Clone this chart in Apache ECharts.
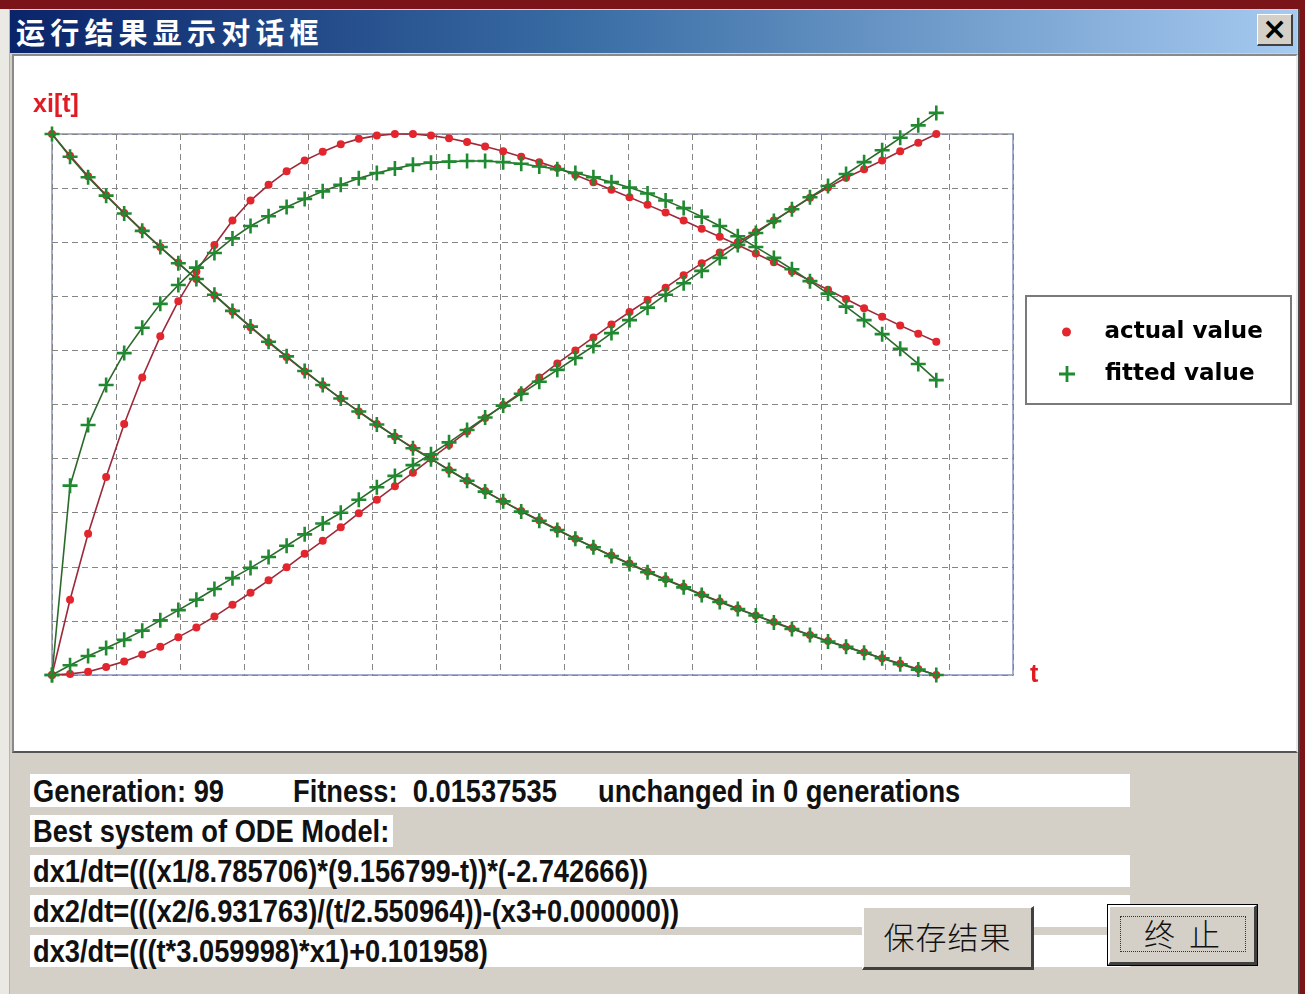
<!DOCTYPE html>
<html>
<head>
<meta charset="utf-8">
<title>运行结果显示对话框</title>
<script src="https://cdn.jsdelivr.net/npm/echarts@6/dist/echarts.min.js"></script>
<style>
  html, body { margin: 0; padding: 0; }
  body { width: 1305px; height: 994px; background: #7a1419; position: relative; overflow: hidden; }
  #dlg { position: absolute; left: 0; top: 9px; width: 1298px; height: 985px; background: #d4d0c8; border-right: 2px solid #4a4a4a; }
  #edge { position: absolute; left: 0; top: 9px; width: 9px; height: 985px; background: #ebe9e4; border-right: 1px solid #b8b4ac; }
  #titlebar { position: absolute; left: 10px; top: 10px; width: 1287px; height: 43px;
    background: linear-gradient(to right, #0a246a 0%, #3a6ea5 45%, #a6caf0 100%); }
  #titletext { position: absolute; left: 6px; top: 3px; color: #fff; font-family: "Noto Sans CJK SC"; font-weight: 700;
    font-size: 29px; letter-spacing: 5.2px; line-height: 36px; white-space: nowrap; }
  #closebtn { position: absolute; left: 1257px; top: 14px; width: 36px; height: 32px; background: #d4d0c8;
    border-top: 1px solid #fff; border-left: 1px solid #fff; border-right: 2px solid #404040; border-bottom: 2px solid #404040;
    box-sizing: border-box; text-align: center; font-family: "DejaVu Sans"; font-weight: bold; font-size: 30px; line-height: 28px; color: #000; }
  #panel { position: absolute; left: 12px; top: 54px; width: 1286px; height: 699px; box-sizing: border-box;
    border-style: solid; border-width: 2px; border-color: #8a8a8a #e8e8e8 #555 #8a8a8a; background: #fff; }
  #chart { position: absolute; left: 14px; top: 56px; width: 1282px; height: 695px; }
  .box { position: absolute; left: 30px; background: #fff; height: 33px; }
  .txt { position: absolute; font-family: "Liberation Sans", Arial, sans-serif;
    font-weight: bold; font-size: 31px; line-height: 33px; color: #111; white-space: nowrap;
    transform: scaleX(0.88); transform-origin: 0 50%; }
  .btn { position: absolute; background: #d4d0c8; box-sizing: border-box;
    border-top: 2px solid #fff; border-left: 2px solid #fff; border-right: 3px solid #404040; border-bottom: 3px solid #404040;
    font-family: "Noto Sans CJK SC"; font-weight: 300; font-size: 31px; color: #111; text-align: center; }
  #btnSave { left: 862px; top: 906px; width: 172px; height: 64px; line-height: 56px; letter-spacing: 1px; }
  #btnStopWrap { position: absolute; left: 1107px; top: 904px; width: 151px; height: 62px; border: 1px solid #000; box-sizing: border-box; }
  #btnStop { left: 0; top: 0; width: 149px; height: 60px; line-height: 52px; letter-spacing: 14px; text-indent: 14px; }
  #focus { position: absolute; left: 12px; top: 11px; width: 126px; height: 36px; border: 1px dotted #333; box-sizing: border-box; }
</style>
</head>
<body>
<div id="dlg"></div>
<div id="edge"></div>
<div id="titlebar"><div id="titletext">运行结果显示对话框</div></div>
<div id="closebtn">×</div>
<div id="panel"></div>
<div id="chart"></div>

<div class="box" style="top:774px; width:1100px;"></div>
<div class="box" style="top:815px; width:363px; height:32px;"></div>
<div class="box" style="top:855px; width:1100px; height:32px;"></div>
<div class="box" style="top:895px; width:1100px; height:32px;"></div>
<div class="box" style="top:935px; width:1100px; height:32px;"></div>

<div class="txt" style="left:33px; top:775px;">Generation: 99</div>
<div class="txt" style="left:293px; top:775px;">Fitness:&nbsp; 0.01537535</div>
<div class="txt" style="left:598px; top:775px;">unchanged in 0 generations</div>
<div class="txt" style="left:33px; top:815px;">Best system of ODE Model:</div>
<div class="txt" style="left:33px; top:855px;">dx1/dt=(((x1/8.785706)*(9.156799-t))*(-2.742666))</div>
<div class="txt" style="left:33px; top:895px;">dx2/dt=(((x2/6.931763)/(t/2.550964))-(x3+0.000000))</div>
<div class="txt" style="left:33px; top:935px;">dx3/dt=(((t*3.059998)*x1)+0.101958)</div>

<div class="btn" id="btnSave">保存结果</div>
<div id="btnStopWrap"><div class="btn" id="btnStop">终止</div><div id="focus"></div></div>

<script>
// Sample positions (step index of the integration grid)
const sampleCount = 50;
const sampleIndex = Array.from({ length: sampleCount }, (_, i) => i);

// x1(t): observed and fitted
const x1Actual = [10.00, 9.60, 9.22, 8.87, 8.54, 8.22, 7.91, 7.62, 7.32, 7.02,
  6.72, 6.43, 6.15, 5.88, 5.61, 5.36, 5.11, 4.87, 4.64, 4.41,
  4.20, 4.00, 3.79, 3.59, 3.40, 3.21, 3.03, 2.86, 2.69, 2.52,
  2.36, 2.21, 2.06, 1.91, 1.77, 1.63, 1.49, 1.36, 1.23, 1.10,
  0.98, 0.86, 0.74, 0.63, 0.52, 0.42, 0.31, 0.21, 0.11, 0.00];
const x1Fitted = [10.00, 9.58, 9.20, 8.86, 8.53, 8.21, 7.91, 7.61, 7.32, 7.03,
  6.73, 6.44, 6.16, 5.89, 5.62, 5.36, 5.11, 4.87, 4.63, 4.41,
  4.19, 3.99, 3.79, 3.59, 3.39, 3.21, 3.02, 2.85, 2.68, 2.52,
  2.36, 2.20, 2.05, 1.90, 1.76, 1.62, 1.48, 1.35, 1.22, 1.10,
  0.97, 0.85, 0.74, 0.62, 0.52, 0.41, 0.31, 0.20, 0.10, 0.00];

// x2(t): observed and fitted
const x2Actual = [0.00, 1.39, 2.61, 3.66, 4.64, 5.50, 6.26, 6.91, 7.46, 7.95,
  8.40, 8.77, 9.06, 9.31, 9.51, 9.67, 9.81, 9.91, 9.97, 10.00,
  10.00, 9.97, 9.92, 9.85, 9.77, 9.68, 9.58, 9.48, 9.37, 9.24,
  9.11, 8.97, 8.83, 8.69, 8.55, 8.40, 8.25, 8.10, 7.95, 7.79,
  7.63, 7.46, 7.29, 7.12, 6.95, 6.78, 6.62, 6.46, 6.31, 6.16];
const x2Fitted = [0.00, 3.50, 4.62, 5.36, 5.95, 6.42, 6.86, 7.21, 7.53, 7.80,
  8.07, 8.30, 8.48, 8.65, 8.80, 8.94, 9.06, 9.18, 9.28, 9.36,
  9.43, 9.47, 9.49, 9.50, 9.50, 9.48, 9.45, 9.40, 9.35, 9.28,
  9.20, 9.11, 9.01, 8.90, 8.77, 8.63, 8.47, 8.30, 8.11, 7.91,
  7.71, 7.50, 7.28, 7.05, 6.81, 6.56, 6.30, 6.03, 5.75, 5.45];

// x3(t): observed and fitted
const x3Actual = [0.00, 0.02, 0.06, 0.15, 0.25, 0.38, 0.52, 0.70, 0.88, 1.08,
  1.30, 1.52, 1.75, 1.99, 2.24, 2.48, 2.73, 2.99, 3.24, 3.49,
  3.74, 4.00, 4.25, 4.50, 4.75, 4.99, 5.23, 5.50, 5.76, 6.00,
  6.24, 6.48, 6.71, 6.93, 7.16, 7.39, 7.61, 7.81, 8.00, 8.19,
  8.40, 8.61, 8.82, 9.01, 9.19, 9.35, 9.51, 9.68, 9.84, 10.00];
const x3Fitted = [0.00, 0.18, 0.35, 0.50, 0.65, 0.82, 1.01, 1.20, 1.39, 1.59,
  1.79, 1.98, 2.18, 2.39, 2.60, 2.80, 3.00, 3.24, 3.47, 3.68,
  3.88, 4.08, 4.30, 4.53, 4.76, 4.98, 5.20, 5.42, 5.64, 5.86,
  6.08, 6.32, 6.56, 6.79, 7.03, 7.24, 7.47, 7.71, 7.95, 8.17,
  8.39, 8.61, 8.83, 9.04, 9.26, 9.48, 9.70, 9.93, 10.16, 10.39];

const actualSeries = [x1Actual, x2Actual, x3Actual];
const fittedSeries = [x1Fitted, x2Fitted, x3Fitted];

const ACTUAL_NAME = 'actual value';
const FITTED_NAME = 'fitted value';
const plusIcon = 'path://M6.2,0H8.8V6.2H15V8.8H8.8V15H6.2V8.8H0V6.2H6.2Z';

const pairs = (vals) => vals.map((v, i) => [sampleIndex[i], v]);

const series = [];
actualSeries.forEach((vals) => series.push({
  name: ACTUAL_NAME, type: 'line', data: pairs(vals), clip: false, z: 3,
  symbol: 'circle', symbolSize: 8, showAllSymbol: true,
  itemStyle: { color: '#e3262e' },
  lineStyle: { color: '#9c2a3a', width: 1.6 }
}));
fittedSeries.forEach((vals) => series.push({
  name: FITTED_NAME, type: 'line', data: pairs(vals), clip: false, z: 4,
  symbol: plusIcon, symbolSize: 15, showAllSymbol: true,
  itemStyle: { color: '#1f8a30' },
  lineStyle: { color: '#2b6a2b', width: 1.6 }
}));

const labelRed = { color: '#e01b24', fontWeight: 'bold', fontSize: 25, fontFamily: 'Liberation Sans' };
const legendText = { fontFamily: 'DejaVu Sans', fontWeight: 'bold', fontSize: 23, color: '#000', lineHeight: 26 };

const chart = echarts.init(document.getElementById('chart'), null, { renderer: 'canvas' });
chart.setOption({
  animation: false,
  backgroundColor: '#fff',
  grid: { left: 38, top: 78, width: 961, height: 541, show: true, borderColor: '#a4afcf', borderWidth: 2, backgroundColor: '#fff' },
  xAxis: {
    type: 'value', min: 0, max: 53.25, interval: 3.55,
    name: 't', nameLocation: 'end', nameGap: 17, nameTextStyle: labelRed,
    axisLine: { show: false }, axisTick: { show: false }, axisLabel: { show: false },
    splitLine: { show: true, lineStyle: { color: '#858585', width: 1, type: [6, 4] } }
  },
  yAxis: {
    type: 'value', min: 0, max: 10, interval: 1,
    name: 'xi[t]', nameLocation: 'end', nameGap: 16, nameTextStyle: Object.assign({ padding: [0, 0, 0, 8] }, labelRed),
    axisLine: { show: false }, axisTick: { show: false }, axisLabel: { show: false },
    splitLine: { show: true, lineStyle: { color: '#858585', width: 1, type: [6, 4] } }
  },
  legend: [
    { data: [{ name: ACTUAL_NAME, icon: 'circle' }], selectedMode: false, orient: 'vertical',
      left: 1048, top: 263, padding: 0, itemWidth: 66, itemHeight: 9, textStyle: legendText },
    { data: [{ name: FITTED_NAME, icon: plusIcon }], selectedMode: false, orient: 'vertical',
      left: 1045, top: 305, padding: 0, itemWidth: 66, itemHeight: 16, textStyle: legendText }
  ],
  graphic: [{
    type: 'rect', left: 1011, top: 239, z: -1,
    shape: { width: 265, height: 108 },
    style: { fill: '#fff', stroke: '#7a7a7a', lineWidth: 2 }
  }],
  series: series
});
</script>
</body>
</html>
